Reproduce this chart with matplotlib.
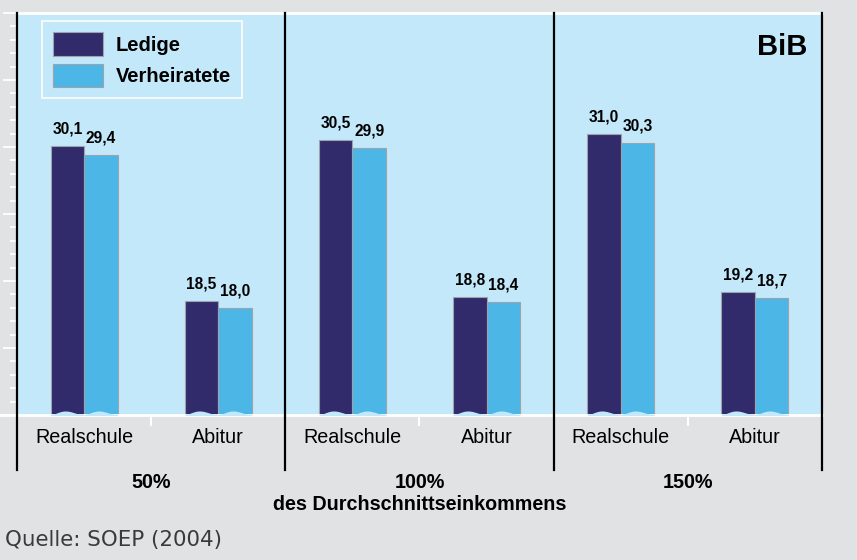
import numpy as np
import matplotlib
matplotlib.use("Agg")
import matplotlib.pyplot as plt
from matplotlib.patches import Patch
from matplotlib.transforms import blended_transform_factory

# ---- data ----
groups = ["50%", "100%", "150%"]
schools = ["Realschule", "Abitur"]
series_names = ["Ledige", "Verheiratete"]
ledige = [30.1, 18.5, 30.5, 18.8, 31.0, 19.2]
verheiratete = [29.4, 18.0, 29.9, 18.4, 30.3, 18.7]
axis_label = "des Durchschnittseinkommens"
source = "Quelle: SOEP (2004)"
logo = "BiB"

# ---- style ----
FIG_BG = "#E1E2E4"
AX_BG = "#C3E8F9"
C_LED = "#322B6B"
C_VER = "#4CB7E7"
EDGE = "#9EA3AB"
FONT = "Liberation Sans"

plt.rcParams["font.family"] = [FONT, "DejaVu Sans"]

fig = plt.figure(figsize=(8.57, 5.60), dpi=100, facecolor=FIG_BG)
ax = fig.add_axes([17 / 857, 1 - 415 / 560, 805 / 857, 402 / 560])
ax.set_facecolor(AX_BG)

ncat = len(groups) * len(schools)
x = np.arange(ncat)
w = 0.25
ymin, ymax = 10, 40

bars1 = ax.bar(x - w / 2, [v - ymin for v in ledige], width=w, bottom=ymin,
               color=C_LED, edgecolor=EDGE, linewidth=0.8, zorder=2, label=series_names[0])
bars2 = ax.bar(x + w / 2, [v - ymin for v in verheiratete], width=w, bottom=ymin,
               color=C_VER, edgecolor=EDGE, linewidth=0.8, zorder=2, label=series_names[1])

# wavy bottoms (cut-out in background colour)
amp = 0.27
for bars in (bars1, bars2):
    for b in bars:
        x0 = b.get_x()
        t = np.linspace(0, 1, 40)
        xs = x0 + t * b.get_width()
        wave = ymin + 0.03 + amp * (0.5 - 0.5 * np.cos(2 * np.pi * (t ** 0.85)))
        ax.fill_between(xs, ymin - 0.05, wave, color=AX_BG, linewidth=0, zorder=3)

# value labels
for bars, vals in ((bars1, ledige), (bars2, verheiratete)):
    for b, v in zip(bars, vals):
        ax.annotate(f"{v:.1f}".replace(".", ","),
                    xy=(b.get_x() + b.get_width() / 2, v),
                    xytext=(0, 9), textcoords="offset points",
                    ha="center", va="baseline", fontsize=11.2, fontweight="bold",
                    color="black", zorder=5)

ax.set_xlim(-0.5, ncat - 0.5)
ax.set_ylim(ymin, ymax)

# y ticks (white, no labels)
ax.set_yticks(np.arange(ymin, ymax + 1, 5))
ax.set_yticks(np.arange(ymin, ymax + 1, 1), minor=True)
ax.tick_params(axis="y", which="major", direction="out", length=10, width=1.3,
               color="white", labelleft=False)
ax.tick_params(axis="y", which="minor", direction="out", length=5, width=1.3,
               color="white")

# x ticks: category labels
ax.set_xticks(x)
ax.set_xticklabels(schools * len(groups), fontsize=14.2, color="black")
ax.tick_params(axis="x", which="major", length=0, pad=9.5)
ax.set_xticks(np.arange(0.5, ncat, 2), minor=True)
ax.tick_params(axis="x", which="minor", direction="out", length=8, width=1.5,
               color="white")

# spines
for s in ("left", "right"):
    ax.spines[s].set_visible(False)
ax.spines["top"].set_color("white")
ax.spines["top"].set_linewidth(2)
ax.spines["bottom"].set_color("white")
ax.spines["bottom"].set_linewidth(2)
ax.axhline(ymin, xmin=-17 / 805, xmax=0, color="white", lw=2, clip_on=False)

# group separators
for gx in np.arange(-0.5, ncat, 2):
    ax.axvline(gx, ymin=-55 / 402, ymax=1, color="black", lw=1.6,
               clip_on=False, zorder=6)

trans = blended_transform_factory(ax.transData, ax.transAxes)
for i, g in enumerate(groups):
    ax.text(2 * i + 0.5, -68 / 402, g, transform=trans, ha="center",
            va="center", fontsize=14.2, fontweight="bold")
ax.text(2 * 1 + 0.5, -90 / 402, axis_label, transform=trans, ha="center",
        va="center", fontsize=14.2, fontweight="bold")

# logo
ax.text(0.982, 0.915, logo, transform=ax.transAxes, ha="right", va="center",
        fontsize=21, fontweight="bold")

# legend
handles = [Patch(facecolor=C_LED, edgecolor=EDGE, linewidth=0.8),
           Patch(facecolor=C_VER, edgecolor=EDGE, linewidth=0.8)]
leg = ax.legend(handles, series_names, loc="upper left",
                bbox_to_anchor=(25 / 805, 1 - 8 / 402), borderaxespad=0,
                prop={"family": FONT, "weight": "bold", "size": 14.5},
                handlelength=2.5, handleheight=1.42, handletextpad=0.62,
                labelspacing=0.4, borderpad=0.55, fancybox=False,
                frameon=True)
leg.get_frame().set_facecolor("none")
leg.get_frame().set_edgecolor("white")
leg.get_frame().set_linewidth(1.5)

fig.text(5 / 857, 1 - 540 / 560, source, ha="left", va="center",
         fontsize=15.4, color="#3A3A3A", family=["DejaVu Sans"])

fig.savefig("out.png", dpi=100, facecolor=FIG_BG)
